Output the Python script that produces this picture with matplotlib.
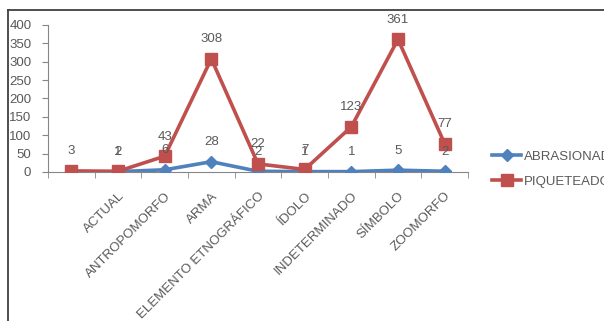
import numpy as np
import matplotlib.pyplot as plt
from matplotlib.lines import Line2D

plt.rcParams['font.family'] = ['Liberation Sans', 'DejaVu Sans']

# categories (first one is blank in the source sheet)
categorias = ['', 'ACTUAL', 'ANTROPOMORFO', 'ARMA', 'ELEMENTO ETNOGRÁFICO',
              'ÍDOLO', 'INDETERMINADO', 'SÍMBOLO', 'ZOOMORFO']
abrasionado = [np.nan, 1, 6, 28, 2, 1, 1, 5, 2]
piqueteado = [3, 2, 43, 308, 22, 7, 123, 361, 77]

azul = '#4F81BD'
rojo = '#C0504D'
gris = '#595959'

fig = plt.figure(figsize=(6.04, 3.21), dpi=100)
ax = fig.add_axes([48/604, 1 - 172/321, 420/604, 147/321])

x = np.arange(len(categorias))
ax.plot(x, abrasionado, color=azul, lw=2.6, marker='D', ms=6.5,
        label='ABRASIONADO', zorder=3)
ax.plot(x, piqueteado, color=rojo, lw=2.6, marker='s', ms=9,
        label='PIQUETEADO', zorder=4)

# data labels
for xi, v in zip(x, piqueteado):
    ax.annotate(str(v), (xi, v), xytext=(0, 14), textcoords='offset points',
                ha='center', va='center', fontsize=9.5, color=gris, zorder=6)
for xi, v in zip(x, abrasionado):
    if np.isnan(v):
        continue
    ax.annotate(str(v), (xi, v), xytext=(0, 14), textcoords='offset points',
                ha='center', va='center', fontsize=9.5, color=gris, zorder=6)

ax.set_xlim(-0.5, len(categorias) - 0.5)
ax.set_ylim(0, 400)
ax.set_yticks(np.arange(0, 401, 50))
ax.tick_params(axis='y', labelsize=9.5, labelcolor=gris, color='#868686',
               length=4, pad=8)

ax.set_xticks(x)
ax.set_xticks(np.arange(-0.5, len(categorias), 1), minor=True)
ax.tick_params(axis='x', which='major', length=0, pad=13)
ax.tick_params(axis='x', which='minor', length=4, color='#868686')
ax.set_xticklabels(categorias, rotation=45, ha='right', va='top',
                   rotation_mode='anchor', fontsize=9.5, color=gris)

for s in ['top', 'right']:
    ax.spines[s].set_visible(False)
ax.spines['left'].set_color('#868686')
ax.spines['bottom'].set_color('#868686')

fig.legend(loc='upper left', bbox_to_anchor=(487/604, 1 - 145/321),
           frameon=False, fontsize=9.5, labelcolor=gris, handlelength=2.2,
           handletextpad=0.2, labelspacing=1.0, borderaxespad=0)

# outer chart border (only top and left visible in the crop)
fig.add_artist(Line2D([8/604, 1], [1 - 10/321, 1 - 10/321],
                      transform=fig.transFigure, color='#404040', lw=1.3))
fig.add_artist(Line2D([8/604, 8/604], [0, 1 - 10/321],
                      transform=fig.transFigure, color='#404040', lw=1.3))

fig.savefig('out.png', dpi=100)
